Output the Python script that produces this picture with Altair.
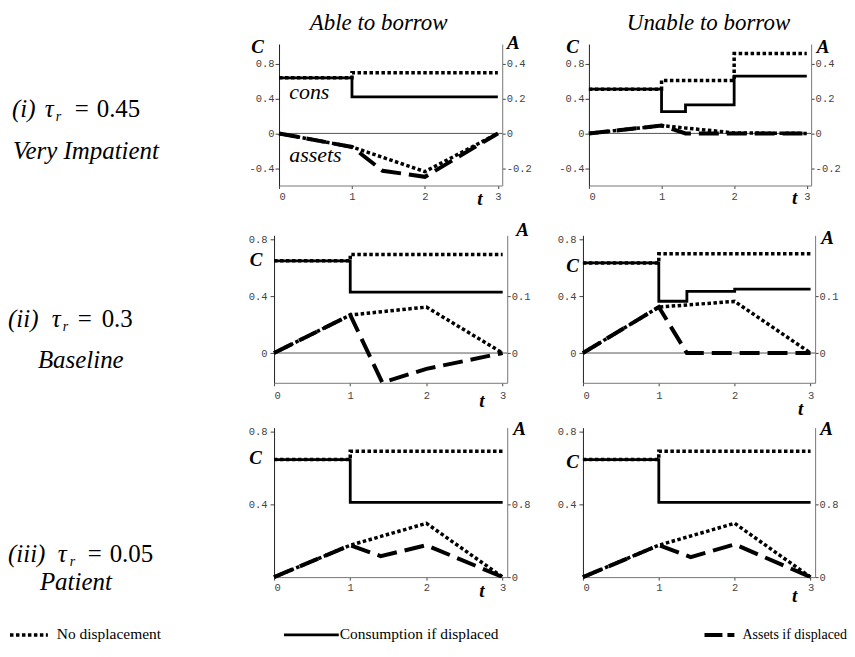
import altair as alt
import pandas as pd

# ---------------- data ----------------
col_titles = ["Able to borrow", "Unable to borrow"]
row_tags = ["(i)", "(ii)", "(iii)"]
row_taus = ["0.45", "0.3", "0.05"]
row_names = ["Very Impatient", "Baseline", "Patient"]
legend_labels = ["No displacement", "Consumption if displaced", "Assets if displaced"]
annot_labels = ["cons", "assets"]
annot_t = [0.14, 0.14]
annot_c = [0.40, -0.33]

x_ticks = [0, 1, 2, 3]
c_ticks = [[-0.4, 0, 0.4, 0.8], [0, 0.4, 0.8], [0.4, 0.8]]
a_ticks = [[-0.2, 0, 0.2, 0.4], [0, 0.1], [0, 0.8]]

# (i) Very impatient, able to borrow
i_able_cons_nodisp_t = [0, 1, 3]
i_able_cons_nodisp = [0.64, 0.70, 0.70]
i_able_cons_disp_t = [0, 1, 3]
i_able_cons_disp = [0.64, 0.42, 0.42]
i_able_assets_nodisp_t = [0, 1, 2, 3]
i_able_assets_nodisp = [0, -0.078, -0.22, 0]
i_able_assets_disp_t = [0, 1, 1.42, 2, 3]
i_able_assets_disp = [0, -0.078, -0.215, -0.25, 0]

# (i) Very impatient, unable to borrow
i_unable_cons_nodisp_t = [0, 1, 2, 3]
i_unable_cons_nodisp = [0.51, 0.61, 0.92, 0.92]
i_unable_cons_disp_t = [0, 1, 1.33, 2, 3]
i_unable_cons_disp = [0.51, 0.25, 0.33, 0.66, 0.66]
i_unable_assets_nodisp_t = [0, 1, 2, 3]
i_unable_assets_nodisp = [0, 0.045, 0.003, 0]
i_unable_assets_disp_t = [0, 1, 1.33, 3]
i_unable_assets_disp = [0, 0.045, 0, 0]

# (ii) Baseline, able to borrow
ii_able_cons_nodisp_t = [0, 1, 3]
ii_able_cons_nodisp = [0.65, 0.695, 0.695]
ii_able_cons_disp_t = [0, 1, 3]
ii_able_cons_disp = [0.65, 0.43, 0.43]
ii_able_assets_nodisp_t = [0, 1, 2, 3]
ii_able_assets_nodisp = [0, 0.067, 0.081, 0]
ii_able_assets_disp_t = [0, 1, 1.42, 2, 3]
ii_able_assets_disp = [0, 0.067, -0.052, -0.028, 0]

# (ii) Baseline, unable to borrow
ii_unable_cons_nodisp_t = [0, 1, 3]
ii_unable_cons_nodisp = [0.635, 0.70, 0.70]
ii_unable_cons_disp_t = [0, 1, 1.37, 2, 3]
ii_unable_cons_disp = [0.635, 0.365, 0.435, 0.45, 0.45]
ii_unable_assets_nodisp_t = [0, 1, 2, 3]
ii_unable_assets_nodisp = [0, 0.081, 0.091, 0]
ii_unable_assets_disp_t = [0, 1, 1.37, 3]
ii_unable_assets_disp = [0, 0.081, 0, 0]

# (iii) Patient, able to borrow
iii_able_cons_nodisp_t = [0, 1, 3]
iii_able_cons_nodisp = [0.645, 0.69, 0.69]
iii_able_cons_disp_t = [0, 1, 3]
iii_able_cons_disp = [0.645, 0.41, 0.41]
iii_able_assets_nodisp_t = [0, 1, 2, 3]
iii_able_assets_nodisp = [0, 0.35, 0.59, 0]
iii_able_assets_disp_t = [0, 1, 1.4, 2, 3]
iii_able_assets_disp = [0, 0.35, 0.23, 0.35, 0]

# (iii) Patient, unable to borrow
iii_unable_cons_nodisp_t = [0, 1, 3]
iii_unable_cons_nodisp = [0.645, 0.69, 0.69]
iii_unable_cons_disp_t = [0, 1, 3]
iii_unable_cons_disp = [0.645, 0.41, 0.41]
iii_unable_assets_nodisp_t = [0, 1, 2, 3]
iii_unable_assets_nodisp = [0, 0.35, 0.59, 0]
iii_unable_assets_disp_t = [0, 1, 1.42, 2, 3]
iii_unable_assets_disp = [0, 0.35, 0.22, 0.36, 0]

panels_data = [
    [
        (i_able_cons_nodisp_t, i_able_cons_nodisp, i_able_cons_disp_t, i_able_cons_disp,
         i_able_assets_nodisp_t, i_able_assets_nodisp, i_able_assets_disp_t, i_able_assets_disp),
        (i_unable_cons_nodisp_t, i_unable_cons_nodisp, i_unable_cons_disp_t, i_unable_cons_disp,
         i_unable_assets_nodisp_t, i_unable_assets_nodisp, i_unable_assets_disp_t, i_unable_assets_disp),
    ],
    [
        (ii_able_cons_nodisp_t, ii_able_cons_nodisp, ii_able_cons_disp_t, ii_able_cons_disp,
         ii_able_assets_nodisp_t, ii_able_assets_nodisp, ii_able_assets_disp_t, ii_able_assets_disp),
        (ii_unable_cons_nodisp_t, ii_unable_cons_nodisp, ii_unable_cons_disp_t, ii_unable_cons_disp,
         ii_unable_assets_nodisp_t, ii_unable_assets_nodisp, ii_unable_assets_disp_t, ii_unable_assets_disp),
    ],
    [
        (iii_able_cons_nodisp_t, iii_able_cons_nodisp, iii_able_cons_disp_t, iii_able_cons_disp,
         iii_able_assets_nodisp_t, iii_able_assets_nodisp, iii_able_assets_disp_t, iii_able_assets_disp),
        (iii_unable_cons_nodisp_t, iii_unable_cons_nodisp, iii_unable_cons_disp_t, iii_unable_cons_disp,
         iii_unable_assets_nodisp_t, iii_unable_assets_nodisp, iii_unable_assets_disp_t, iii_unable_assets_disp),
    ],
]

# ---------------- layout / style ----------------
ROW_H = [142, 148, 150]
ROW_CELL_H = [192, 193, 189]
COL_W = [191, 234, 233]
X_RANGE = [[(5, 229), (6, 229)], [(0, 234), (0, 233)], [(0, 234), (0, 233)]]
HEAD_H = 35
LEG_H = 20
GAP = 76
X_DOM = [0, 3.06]
C_DOM = [[-0.6, 1.03], [-0.21, 0.83], [0, 0.82]]
A_DOM = [[-0.3, 0.515], [-0.0525, 0.2075], [0, 1.64]]
C_TITLE_POS = [[(-22, 9), (-17, 9)], [(-18.5, 30), (-11, 36)], [(-19, 36), (-11, 40)]]
A_TITLE_POS = [[(10.5, 5), (11.5, 9)], [(15, 0), (12, 8)], [(12, 7), (11, 7)]]
T_TITLE_POS = [[(206, 19), (212, 18)], [(208, 24), (218, 32)], [(208, 19), (212, 24)]]
X_LAB_PAD = [3, 5, 2]
C_LAB_PAD = [1, 3, 3]

SERIF = "Liberation Serif"
MONO = "Liberation Mono"
DOT = dict(strokeDash=[3.5, 2.5], strokeWidth=3.5, color="black", strokeCap="butt")
SOLID = dict(strokeWidth=2.8, color="black")
DASH = dict(strokeDash=[20, 8], strokeWidth=4, color="black", strokeCap="butt")

axis_common = dict(
    grid=False, labelFont=MONO, labelFontSize=10.5, labelColor="#444",
    tickColor="#444", titleFont=SERIF, titleFontStyle="italic", titleFontWeight="bold",
    titleFontSize=19, titleColor="black", titleAngle=0, titleAlign="center",
    titleBaseline="alphabetic",
)
LAB_EXPR = "datum.value == 0 ? '0' : replace(format(datum.value, '.1f'), '\u2212', '-')"

dummy = pd.DataFrame({"k": [0]})


def panel(r, k):
    (cnt, cn, cdt, cd, ant, an, adt, ad) = panels_data[r][k]
    w, h = COL_W[k + 1], ROW_H[r]
    x0, x1 = X_RANGE[r][k]
    tx, ty = T_TITLE_POS[r][k]
    cx, cy = C_TITLE_POS[r][k]
    ax, ay = A_TITLE_POS[r][k]
    xdef = alt.X("t:Q", scale=alt.Scale(domain=X_DOM, range=[x0, x1], nice=False, zero=False),
                 axis=alt.Axis(values=x_ticks, labelExpr="'' + datum.value", title="t",
                               titleX=tx, titleY=ty, tickSize=3, labelPadding=X_LAB_PAD[r],
                               domainColor="#777", **axis_common))
    ydef_c = alt.Y("c:Q", scale=alt.Scale(domain=C_DOM[r], nice=False, zero=False),
                   axis=alt.Axis(orient="left", values=c_ticks[r], labelExpr=LAB_EXPR, title="C",
                                 titleX=cx, titleY=cy, tickSize=4, labelPadding=C_LAB_PAD[r],
                                 offset=-x0, domainColor="#222", **axis_common))
    ydef_a = alt.Y("a:Q", scale=alt.Scale(domain=A_DOM[r], nice=False, zero=False),
                   axis=alt.Axis(orient="right", values=a_ticks[r], labelExpr=LAB_EXPR, title="A",
                                 titleX=ax, titleY=ay, tickSize=3, labelPadding=1,
                                 offset=-(w - x1), domainColor="#777", **axis_common))
    cons_layers = []
    if r < 2:
        cons_layers.append(
            alt.Chart(pd.DataFrame({"t": [X_DOM[0]], "t2": [X_DOM[1]], "c": [0]}))
            .mark_rule(color="#555", strokeWidth=1)
            .encode(x=xdef, x2="t2:Q", y=ydef_c)
        )
    cons_layers.append(
        alt.Chart(pd.DataFrame({"t": cdt, "c": cd})).mark_line(interpolate="step-after", **SOLID)
        .encode(x=xdef, y=ydef_c)
    )
    cons_layers.append(
        alt.Chart(pd.DataFrame({"t": cnt, "c": cn})).mark_line(interpolate="step-after", **DOT)
        .encode(x=xdef, y=ydef_c)
    )
    if r == 0 and k == 0:
        cons_layers.append(
            alt.Chart(pd.DataFrame({"t": annot_t, "c": annot_c, "label": annot_labels}))
            .mark_text(align="left", baseline="alphabetic", font=SERIF, fontStyle="italic", fontSize=22)
            .encode(x=xdef, y=ydef_c, text="label:N")
        )
    assets_layers = [
        alt.Chart(pd.DataFrame({"t": adt, "a": ad})).mark_line(**DASH).encode(x=xdef, y=ydef_a),
        alt.Chart(pd.DataFrame({"t": ant, "a": an})).mark_line(**DOT).encode(x=xdef, y=ydef_a),
    ]
    return (alt.layer(alt.layer(*cons_layers), alt.layer(*assets_layers))
            .resolve_scale(y="independent").properties(width=w, height=h))


def txt(x, y, s, size, style="normal", align="left", weight="normal"):
    return alt.Chart(dummy).mark_text(
        align=align, baseline="alphabetic", font=SERIF, fontSize=size, fontStyle=style,
        fontWeight=weight, color="black"
    ).encode(x=alt.value(x), y=alt.value(y), text=alt.value(s))


# row label cells: (tag x, tau x, sub x, eq x, val x, name x, main baseline, name baseline)
LABEL_POS = [
    (4, 37, 48, 67, 89, 5, 73, 115),
    (0, 44, 55, 70, 94, 30, 92, 133),
    (0, 50, 62, 80, 102, 32, 135, 163),
]


def label_cell(r):
    tg, tu, sb, eq, vl, nm, yb, yn = LABEL_POS[r]
    return alt.layer(
        txt(tg, yb, row_tags[r], 25, "italic"),
        txt(tu, yb, "\u03c4", 25, "italic"),
        txt(sb, yb + 4, "r", 14, "italic"),
        txt(eq, yb, "=", 25),
        txt(vl, yb, row_taus[r], 25),
        txt(nm, yn, row_names[r], 25, "italic"),
    ).properties(width=COL_W[0], height=ROW_CELL_H[r])


blank = txt(0, 10, "", 10).properties(width=COL_W[0], height=HEAD_H)
head_l = txt(105, 20.5, col_titles[0], 23, "italic", "center").properties(width=COL_W[1], height=HEAD_H)
head_r = txt(126, 20.5, col_titles[1], 23, "italic", "center").properties(width=COL_W[2], height=HEAD_H)


def leg_rule(x1, x2, y, style):
    return alt.Chart(dummy).mark_rule(**style).encode(x=alt.value(x1), x2=alt.value(x2), y=alt.value(y))


LEG_LINE_Y = 19
LEG_TEXT_Y = 23
leg0 = alt.layer(leg_rule(2, 40, LEG_LINE_Y, DOT), txt(49, LEG_TEXT_Y, legend_labels[0], 15.5)).properties(width=COL_W[0], height=LEG_H)
leg1 = alt.layer(leg_rule(10, 65, LEG_LINE_Y, SOLID), txt(66, LEG_TEXT_Y, legend_labels[1], 15.5)).properties(width=COL_W[1], height=LEG_H)
leg2 = alt.layer(leg_rule(122, 152, LEG_LINE_Y, dict(strokeDash=[18, 5], strokeWidth=4, color="black", strokeCap="butt")),
                 txt(265, LEG_TEXT_Y, legend_labels[2], 14, align="right")).properties(width=COL_W[2], height=LEG_H)

cells = [blank, head_l, head_r]
for r in range(3):
    cells += [label_cell(r), panel(r, 0), panel(r, 1)]
cells += [leg0, leg1, leg2]

chart = alt.concat(
    *cells, columns=3, spacing={"row": 0, "column": GAP}, bounds="flush",
).properties(
    padding={"left": 0, "top": 0, "right": 0, "bottom": 0}
).configure_view(stroke=None)

chart.save("out.html", embed_options={"renderer": "svg", "actions": False})
